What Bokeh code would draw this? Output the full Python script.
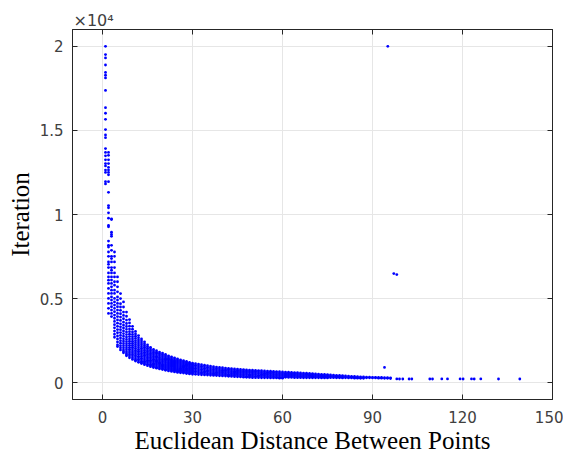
from bokeh.plotting import figure
from bokeh.models import Range1d, FixedTicker, LinearAxis, CustomJSTickFormatter
from bokeh.embed import file_html
from bokeh.resources import INLINE

# ---- data ----
col_x = [1, 2, 3, 4, 5, 6, 7, 8, 9, 10, 11, 12, 13, 14, 15, 16, 17, 18, 19, 20,
         21, 22, 23, 24, 25, 26, 27, 28, 29, 30, 31, 32, 33, 34, 35, 36, 37, 38, 39, 40,
         41, 42, 43, 44, 45, 46, 47, 48, 49, 50, 51, 52, 53, 54, 55, 56, 57, 58, 59, 60,
         61, 62, 63, 64, 65, 66, 67, 68, 69, 70, 71, 72, 73, 74, 75, 76, 77, 78, 79, 80,
         81, 82, 83, 84, 85, 86, 87, 88, 89, 90, 91, 92, 93, 94, 95, 96]

col_y = [
    [20000, 19510, 19310, 18890, 18450, 18280, 18120, 17380, 16350, 16020, 15660, 15050,
     14730, 14570, 13920, 13690, 13490, 13250, 13030, 12890, 12640, 12500, 11950, 11820],
    [13690, 13520, 13250, 13030, 12800, 12640, 12500, 12360, 11950, 11320, 10530, 10400,
     10100, 9780, 9350, 9270, 8420, 8165, 8065, 7770, 7515, 7180, 7040, 6845, 6525, 6290,
     6095, 5900, 5605, 5310, 5010, 4715, 4420, 4120],
    [9740, 9700, 8950, 8815, 8700, 8165, 7870, 7515, 7380, 7180, 6845, 6690, 6525, 6290,
     6100, 5900, 5700, 5500, 5310, 5100, 4910, 4715, 4515, 4320, 4120, 3930],
    [7770, 7515, 7180, 6845, 6525, 6290, 6000, 5800, 5500, 5310, 5010, 4800, 4615, 4420,
     4220, 4020, 3830, 3640, 3450, 3260, 3070, 2880, 2700],
    [6290, 6000, 5700, 5400, 5100, 4910, 4715, 4515, 4320, 4120, 3930, 3730, 3540, 3350,
     3160, 2970, 2780, 2600, 2420, 2250, 2150],
    [5300, 5000, 4700, 4500, 4300, 4100, 3900, 3700, 3500, 3320, 3150, 2980, 2810, 2650,
     2500, 2350, 2200, 2070, 1950],
    [4800, 4500, 4200, 4000, 3800, 3600, 3420, 3250, 3080, 2920, 2760, 2610, 2470, 2330,
     2200, 2070, 1950, 1850, 1780],
    [4200, 3950, 3720, 3520, 3340, 3170, 3010, 2860, 2710, 2570, 2440, 2310, 2190, 2070,
     1960, 1850, 1750, 1660, 1600],
    [3750, 3550, 3360, 3190, 3030, 2880, 2740, 2600, 2470, 2340, 2220, 2100, 1990, 1880,
     1780, 1680, 1580, 1480],
    [3350, 3180, 3020, 2870, 2730, 2600, 2470, 2350, 2230, 2110, 2000, 1890, 1780, 1680,
     1580, 1480, 1380],
    [3050, 2900, 2760, 2630, 2500, 2380, 2260, 2140, 2030, 1920, 1820, 1720, 1620, 1520,
     1420, 1340, 1290],
    [2800, 2670, 2540, 2420, 2300, 2190, 2080, 1970, 1870, 1770, 1670, 1570, 1480, 1390,
     1300, 1210],
    [2600, 2480, 2360, 2250, 2140, 2040, 1940, 1840, 1740, 1640, 1550, 1460, 1370, 1280,
     1200, 1140],
    [2430, 2320, 2210, 2110, 2010, 1910, 1810, 1720, 1630, 1540, 1450, 1360, 1280, 1200,
     1130, 1070],
    [2250, 2150, 2050, 1950, 1860, 1770, 1680, 1590, 1500, 1420, 1340, 1260, 1180, 1100, 1010],
    [2100, 2010, 1920, 1830, 1740, 1660, 1580, 1500, 1420, 1340, 1260, 1180, 1100, 1020, 950],
    [1980, 1890, 1800, 1720, 1640, 1560, 1480, 1400, 1320, 1240, 1160, 1090, 1020, 960, 900],
    [1900, 1810, 1730, 1650, 1570, 1490, 1410, 1340, 1270, 1200, 1130, 1060, 990, 920, 860],
    [1820, 1740, 1660, 1580, 1500, 1430, 1360, 1290, 1220, 1150, 1080, 1010, 950, 880, 820],
    [1760, 1680, 1600, 1520, 1450, 1380, 1310, 1240, 1170, 1100, 1030, 970, 900, 840, 780],
    [1680, 1600, 1530, 1460, 1390, 1320, 1250, 1180, 1110, 1050, 990, 930, 870, 800, 740],
    [1600, 1530, 1460, 1390, 1320, 1250, 1190, 1130, 1070, 1010, 950, 890, 830, 770, 700],
    [1540, 1470, 1400, 1330, 1270, 1210, 1150, 1090, 1030, 970, 910, 850, 790, 730, 670],
    [1480, 1410, 1340, 1280, 1220, 1160, 1100, 1040, 980, 920, 860, 800, 740, 690, 640],
    [1420, 1350, 1290, 1230, 1170, 1110, 1050, 990, 930, 870, 810, 760, 710, 660, 610],
    [1360, 1300, 1240, 1180, 1120, 1060, 1000, 940, 890, 840, 790, 740, 690, 640, 590],
    [1310, 1250, 1190, 1130, 1070, 1020, 970, 920, 870, 820, 770, 720, 670, 620, 570],
    [1260, 1200, 1140, 1090, 1040, 990, 940, 890, 840, 790, 740, 690, 640, 590, 540],
    [1210, 1160, 1110, 1060, 1010, 960, 910, 860, 810, 760, 710, 660, 610, 560, 520],
    [1160, 1110, 1060, 1010, 960, 910, 860, 810, 760, 710, 660, 610, 560, 500],
    [1130, 1040, 950, 860, 770, 680, 590, 500],
    [1100, 1010, 920, 830, 740, 650, 560, 480],
    [1070, 980, 890, 800, 710, 620, 540, 470],
    [1040, 950, 860, 770, 680, 600, 520, 460],
    [1010, 920, 830, 740, 660, 580, 510, 450],
    [980, 890, 810, 730, 650, 570, 500, 440],
    [950, 870, 790, 710, 630, 560, 490, 430],
    [930, 850, 770, 690, 620, 550, 480, 420],
    [910, 830, 750, 680, 610, 540, 470, 410],
    [890, 810, 740, 670, 600, 530, 460, 400],
    [870, 790, 720, 650, 580, 510, 450, 390],
    [850, 780, 710, 640, 570, 500, 440, 380],
    [840, 770, 700, 630, 560, 500, 430, 370],
    [820, 750, 680, 620, 550, 490, 420, 360],
    [810, 740, 670, 610, 540, 480, 410, 350],
    [790, 720, 660, 600, 530, 470, 400, 340],
    [780, 710, 650, 590, 520, 460, 390, 330],
    [760, 700, 640, 580, 510, 450, 380, 320],
    [750, 690, 630, 570, 500, 440, 370, 310],
    [740, 680, 620, 560, 490, 430, 360, 300],
    [730, 660, 590, 520, 450, 380, 300],
    [720, 650, 580, 510, 440, 370, 300],
    [710, 640, 570, 500, 430, 360, 290],
    [700, 630, 560, 490, 420, 350, 290],
    [690, 620, 550, 480, 410, 350, 290],
    [680, 610, 540, 470, 410, 340, 280],
    [670, 600, 530, 470, 400, 340, 280],
    [660, 590, 520, 460, 400, 330, 280],
    [650, 580, 520, 450, 390, 330, 270],
    [640, 570, 510, 450, 390, 330, 270],
    [630, 560, 500, 440, 380, 320],
    [620, 550, 490, 430, 370, 310],
    [610, 550, 490, 430, 370, 310],
    [600, 540, 480, 420, 360, 300],
    [590, 530, 470, 410, 350, 300],
    [580, 520, 460, 400, 350, 300],
    [570, 510, 450, 400, 340, 290],
    [560, 500, 450, 390, 340, 290],
    [550, 490, 440, 390, 340, 290],
    [540, 480, 430, 380, 330, 290],
    [520, 460, 400, 340, 290],
    [510, 450, 390, 340, 290],
    [500, 440, 380, 330, 280],
    [490, 430, 380, 330, 280],
    [480, 420, 370, 320, 280],
    [460, 400, 350, 300],
    [450, 390, 340, 300],
    [440, 380, 330, 290],
    [430, 370, 320, 290],
    [420, 360, 310, 280],
    [400, 340, 290],
    [390, 330, 280],
    [380, 320, 280],
    [370, 320, 270],
    [360, 310, 270],
    [350, 300, 260],
    [340, 300, 260],
    [330, 290],
    [330, 290],
    [320, 280],
    [320, 280],
    [310, 270],
    [310, 270],
    [905, 300, 260],
    [300, 260],
    [290, 250],
]

tail_x = [98.1, 99.0, 100.1, 102.2, 103.1, 109.1, 110.0, 113.1, 115.0, 119.2, 120.2,
          123.0, 123.9, 126.1, 132.0, 139.1]
tail_y = [220, 220, 220, 220, 220, 220, 220, 220, 220, 220, 220, 220, 220, 220, 220, 220]

outlier_x = [95.1, 97.1, 98.1]
outlier_y = [20000, 6490, 6430]

x_ticks = [0, 30, 60, 90, 120, 150]
y_ticks = [0, 5000, 10000, 15000, 20000]
y_tick_labels = ["0", "0.5", "1", "1.5", "2"]

# ---- assemble points ----
xs, ys = [], []
for cx, cys in zip(col_x, col_y):
    for cy in cys:
        xs.append(cx)
        ys.append(cy)
xs += tail_x + outlier_x
ys += tail_y + outlier_y

AX = "#262626"
GRID = "#e6e6e6"
TICKFONT = "DejaVu Sans"
LABFONT = "Liberation Serif"

p = figure(width=563, height=456, output_backend="svg", toolbar_location=None,
           x_range=Range1d(-10, 150), y_range=Range1d(-1000, 21000),
           min_border_left=72, min_border_right=11, min_border_top=29, min_border_bottom=56,
           background_fill_color="white", border_fill_color="white",
           title="×10⁴")
p.outline_line_color = AX
p.outline_line_width = 1

p.title.align = "left"
p.title.offset = 1
p.title.standoff = 0
p.title.text_font = TICKFONT
p.title.text_font_size = "16px"
p.title.text_font_style = "normal"
p.title.text_color = "#404040"

p.scatter(xs, ys, marker="circle", size=2.8, fill_color="#0000ff", line_color=None)

# grid
p.xgrid.ticker = FixedTicker(ticks=x_ticks)
p.ygrid.ticker = FixedTicker(ticks=y_ticks)
p.xgrid.grid_line_color = GRID
p.ygrid.grid_line_color = GRID

def style_axis(ax):
    ax.axis_line_color = AX
    ax.major_tick_line_color = AX
    ax.major_tick_in = 5
    ax.major_tick_out = 0
    ax.minor_tick_line_color = None
    ax.major_label_text_font = TICKFONT
    ax.major_label_text_font_size = "15px"
    ax.major_label_text_color = "#404040"
    ax.axis_label_text_font = LABFONT
    ax.axis_label_text_font_style = "normal"
    ax.axis_label_text_color = "#000000"

xa = p.xaxis[0]
style_axis(xa)
xa.ticker = FixedTicker(ticks=x_ticks)
xa.major_label_standoff = 11
xa.axis_label = "Euclidean Distance Between Points"
xa.axis_label_text_font_size = "25px"
xa.axis_label_standoff = 1

ya = p.yaxis[0]
style_axis(ya)
ya.ticker = FixedTicker(ticks=y_ticks)
ya.major_label_overrides = {t: l for t, l in zip(y_ticks, y_tick_labels)}
ya.major_label_standoff = 9
ya.axis_label = "Iteration"
ya.axis_label_text_font_size = "25px"
ya.axis_label_standoff = 3

blank = CustomJSTickFormatter(code="return ''")
top = LinearAxis(ticker=FixedTicker(ticks=x_ticks), formatter=blank)
style_axis(top)
top.major_label_standoff = 0
top.major_label_text_font_size = "0px"
p.add_layout(top, "above")
right = LinearAxis(ticker=FixedTicker(ticks=y_ticks), formatter=blank)
style_axis(right)
right.major_label_standoff = 0
right.major_label_text_font_size = "0px"
p.add_layout(right, "right")

open("out.html", "w").write(file_html(p, INLINE))
